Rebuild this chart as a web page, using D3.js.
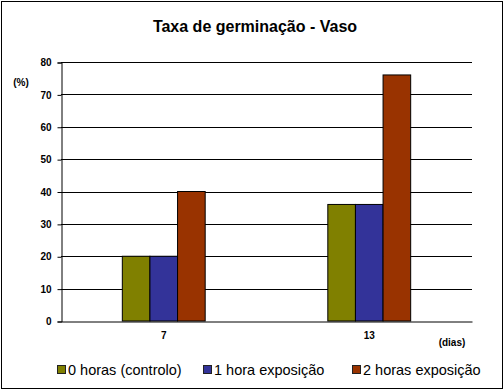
<!DOCTYPE html>
<html><head><meta charset="utf-8">
<script src="https://cdn.jsdelivr.net/npm/d3@7"></script>
<style>body{margin:0;background:#fff}svg{display:block}</style>
</head><body>
<script>
const categories = ["7", "13"];
const seriesNames = ["0 horas (controlo)", "1 hora exposição", "2 horas exposição"];
const series0 = [20, 36];
const series1 = [20, 36];
const series2 = [40, 76];
const yTicks = [0, 10, 20, 30, 40, 50, 60, 70, 80];
const colors = ["#808000", "#333399", "#993300"];
const allSeries = [series0, series1, series2];

(function () {
const W = 504, H = 391;
const svg = d3.select("body").append("svg").attr("width", W).attr("height", H);
svg.append("rect").attr("x", 1.5).attr("y", 1.5).attr("width", W - 3).attr("height", H - 4)
  .attr("fill", "#fff").attr("stroke", "#000").attr("stroke-width", 1);

const pLeft = 61, pRight = 472, pTop = 62, pBottom = 321;
const x = d3.scaleBand().domain(categories).range([pLeft, pRight]);
const xs = d3.scaleBand().domain(d3.range(3)).range([0, x.bandwidth()]).paddingInner(0).paddingOuter(2.22);
const y = d3.scaleLinear().domain([0, 80]).range([pBottom, pTop]);
const font = "Arial, 'Liberation Sans', sans-serif";

// gridlines
svg.append("g").selectAll("line").data(yTicks.filter(d => d > 0)).join("line")
  .attr("x1", pLeft).attr("x2", pRight).attr("y1", d => Math.round(y(d)) + 0.5).attr("y2", d => Math.round(y(d)) + 0.5)
  .attr("stroke", "#000").attr("stroke-width", 1);

// bars
const g = svg.append("g");
categories.forEach((c, i) => {
  allSeries.forEach((s, j) => {
    g.append("rect")
      .attr("x", x(c) + xs(j)).attr("y", y(s[i]))
      .attr("width", xs.bandwidth()).attr("height", y(0) - y(s[i]))
      .attr("fill", colors[j]).attr("stroke", "#000").attr("stroke-width", 1);
  });
});

// y axis
const yAxis = d3.axisLeft(y).tickValues(yTicks).tickSize(4).tickPadding(6);
const ya = svg.append("g").attr("transform", `translate(${pLeft + 0.5},0.5)`).call(yAxis);
ya.select(".domain").attr("stroke", "#000");
ya.selectAll("text").attr("font-family", font).attr("font-size", 10).attr("font-weight", "bold").attr("fill", "#000");

// x axis
const xAxis = d3.axisBottom(x).tickSize(0).tickPadding(10);
const xa = svg.append("g").attr("transform", `translate(0,${pBottom + 0.5})`).call(xAxis);
xa.select(".domain").attr("stroke", "#000");
xa.selectAll("text").attr("font-family", font).attr("font-size", 10).attr("font-weight", "bold").attr("fill", "#000");

svg.append("text").attr("x", 255).attr("y", 32).attr("text-anchor", "middle")
  .attr("font-family", font).attr("font-size", 16).attr("font-weight", "bold").text("Taxa de germinação - Vaso");
svg.append("text").attr("x", 21).attr("y", 86).attr("text-anchor", "middle")
  .attr("font-family", font).attr("font-size", 10).attr("font-weight", "bold").text("(%)");
svg.append("text").attr("x", 452).attr("y", 346).attr("text-anchor", "middle")
  .attr("font-family", font).attr("font-size", 10).attr("font-weight", "bold").text("(dias)");

// legend
const legX = [57, 203, 352];
const leg = svg.append("g");
seriesNames.forEach((n, j) => {
  leg.append("rect").attr("x", legX[j] + 0.5).attr("y", 365.5).attr("width", 8).attr("height", 8)
    .attr("fill", colors[j]).attr("stroke", "#222").attr("stroke-width", 1);
  leg.append("text").attr("x", legX[j] + 11).attr("y", 375)
    .attr("font-family", font).attr("font-size", 14.5).text(n);
});
})();
</script>
</body></html>
